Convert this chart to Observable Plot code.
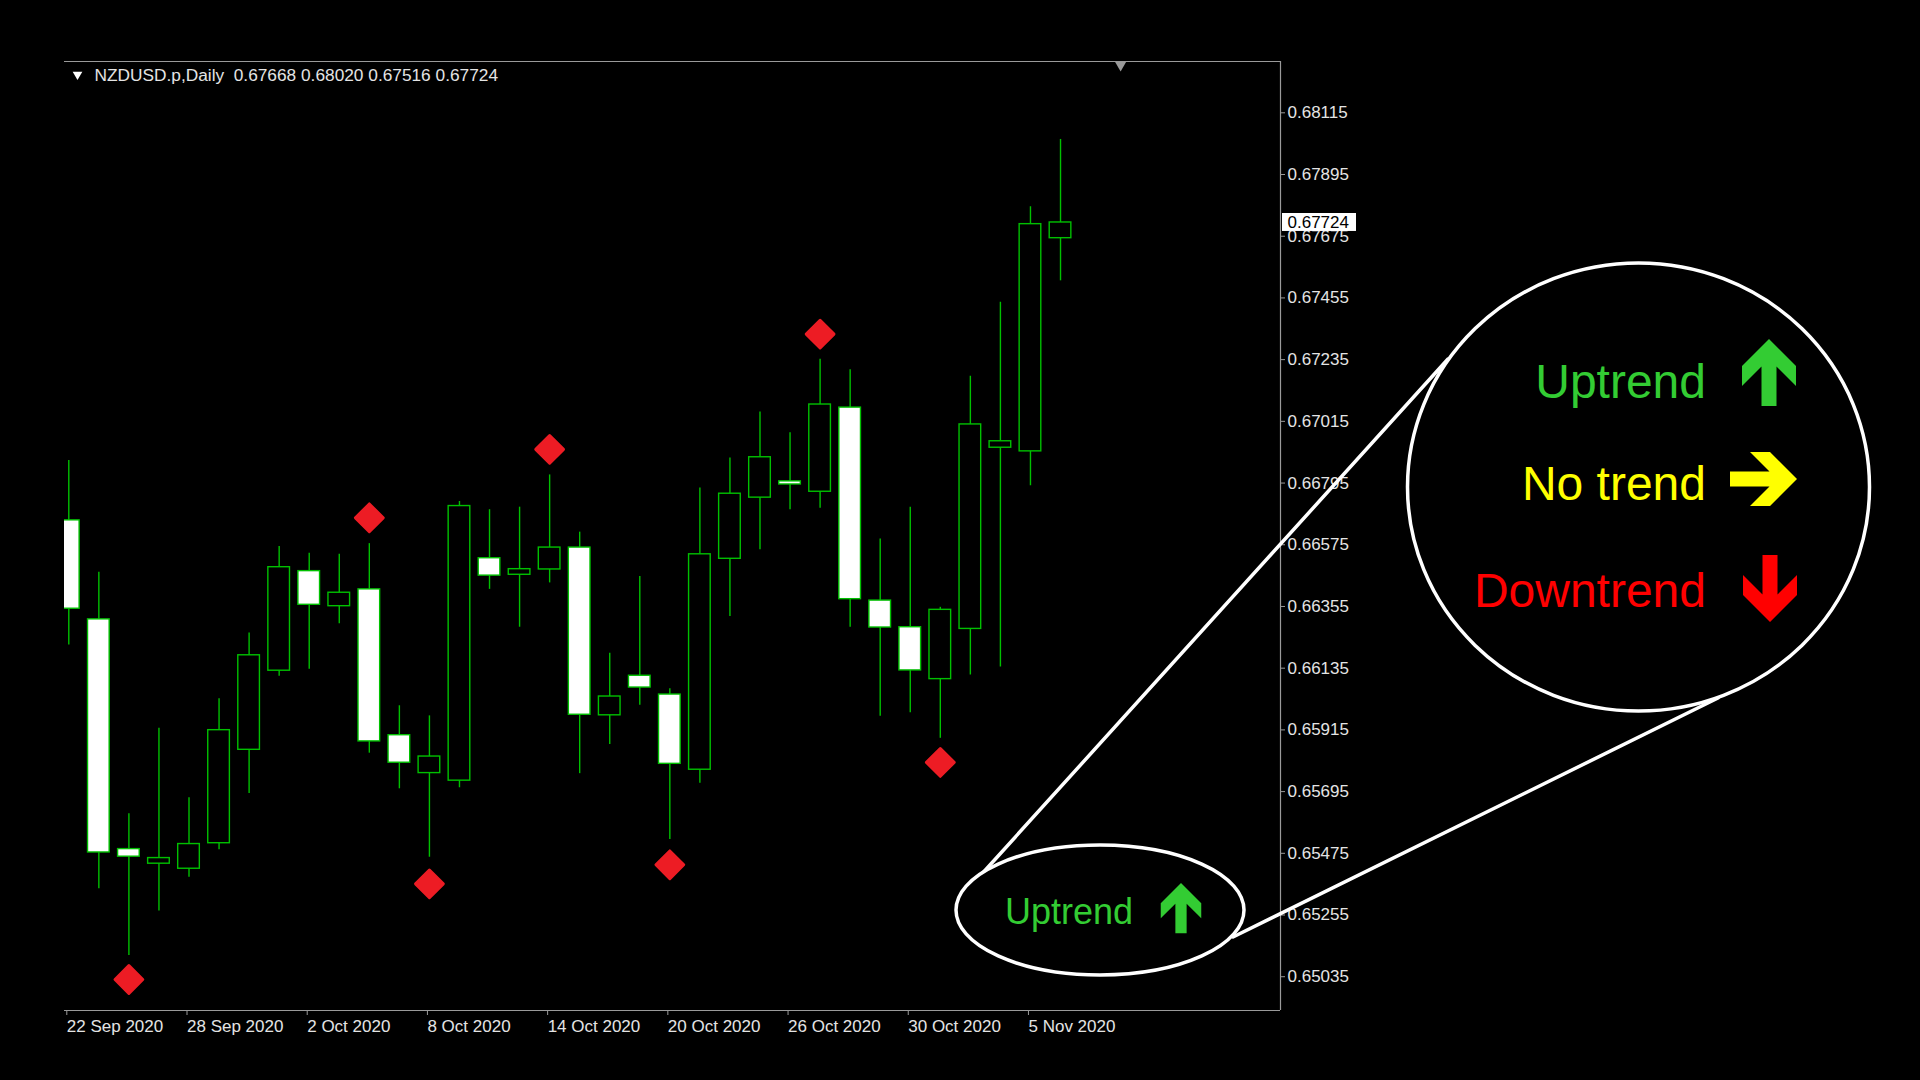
<!DOCTYPE html>
<html>
<head>
<meta charset="utf-8">
<script src="https://cdn.jsdelivr.net/npm/d3@7"></script>
<script src="https://cdn.jsdelivr.net/npm/@observablehq/plot@0.6"></script>
<style>
html, body { margin: 0; padding: 0; background: #000; }
#wrap { position: relative; width: 1920px; height: 1080px; overflow: hidden; background: #000; }
#wrap svg { position: absolute; left: 0; top: 0; }
</style>
</head>
<body>
<div id="wrap"></div>
<script>
// ---------- data ----------
const symbol = "NZDUSD.p";
const period = "Daily";
const dates = ["22 Sep 2020","23 Sep 2020","24 Sep 2020","25 Sep 2020","28 Sep 2020","29 Sep 2020","30 Sep 2020",
  "1 Oct 2020","2 Oct 2020","5 Oct 2020","6 Oct 2020","7 Oct 2020","8 Oct 2020","9 Oct 2020","12 Oct 2020",
  "13 Oct 2020","14 Oct 2020","15 Oct 2020","16 Oct 2020","19 Oct 2020","20 Oct 2020","21 Oct 2020","22 Oct 2020",
  "23 Oct 2020","26 Oct 2020","27 Oct 2020","28 Oct 2020","29 Oct 2020","30 Oct 2020","2 Nov 2020","3 Nov 2020",
  "4 Nov 2020","5 Nov 2020","6 Nov 2020"];
const open  = [0.66662,0.66309,0.65490,0.65438,0.65420,0.65511,0.65844,0.66126,0.66481,0.66356,0.66416,0.65896,
  0.65761,0.65734,0.66527,0.66468,0.66487,0.66565,0.65967,0.66108,0.66041,0.65773,0.66525,0.66743,0.66801,0.66764,
  0.67064,0.66376,0.66281,0.66096,0.66275,0.66921,0.66908,0.67668];
const high  = [0.66875,0.66477,0.65616,0.65921,0.65673,0.66026,0.66260,0.66569,0.66545,0.66541,0.66579,0.66001,
  0.65965,0.66729,0.66700,0.66709,0.66824,0.66620,0.66188,0.66462,0.66062,0.66777,0.66884,0.67048,0.66974,0.67236,
  0.67199,0.66596,0.66709,0.66352,0.67176,0.67440,0.67780,0.68020];
const low   = [0.66218,0.65349,0.65111,0.65269,0.65390,0.65488,0.65688,0.66106,0.66131,0.66293,0.65832,0.65705,
  0.65461,0.65709,0.66416,0.66281,0.66439,0.65759,0.65863,0.66003,0.65524,0.65725,0.66319,0.66557,0.66700,0.66705,
  0.66281,0.65964,0.65976,0.65885,0.66111,0.66139,0.66785,0.67516];
const close = [0.66347,0.65478,0.65463,0.65458,0.65508,0.65914,0.66181,0.66495,0.66361,0.66404,0.65874,0.65798,
  0.65820,0.66713,0.66465,0.66488,0.66565,0.65969,0.66034,0.66066,0.65794,0.66541,0.66757,0.66887,0.66790,0.67075,
  0.66381,0.66280,0.66127,0.66343,0.67004,0.66944,0.67718,0.67724];
// fractal-style signal diamonds (bar index, price)
const signalIdx   = [2, 10, 12, 16, 20, 25, 29];
const signalPrice = [0.65025, 0.66671, 0.65366, 0.66915, 0.65434, 0.67326, 0.65799];
// axis ticks
const xTickIdx = [0, 4, 8, 12, 16, 20, 24, 28, 32];
const yTicks = [0.68115,0.67895,0.67675,0.67455,0.67235,0.67015,0.66795,0.66575,0.66355,0.66135,0.65915,0.65695,0.65475,0.65255,0.65035];
// visible ranges
const xDomain = [-0.143, 40.32];
const yDomain = [0.649146, 0.682979];
const chartShift = 2;
// legend
const legendItems = ["Uptrend", "No trend", "Downtrend"];

// ---------- build ----------
const candles = dates.map((d, i) => ({i, date: d, open: open[i], high: high[i], low: low[i], close: close[i]}));
const bulls = candles.filter(d => d.close >= d.open);
const bears = candles.filter(d => d.close < d.open);
const signals = signalIdx.map((i, k) => ({i, price: signalPrice[k]}));
const last = candles[candles.length - 1];
const fmt = d3.format(".5f");
const green = "#00c000";
const frameGray = "#9a9a9a";
const textCol = "#e4e4e4";
const font = "'Liberation Sans', Arial, sans-serif";

const chart = Plot.plot({
  width: 1920,
  height: 1080,
  marginLeft: 64,
  marginRight: 640,
  marginTop: 61,
  marginBottom: 70,
  style: {background: "#000", fontFamily: font, fontSize: "17px", color: textCol, overflow: "visible"},
  x: {type: "linear", domain: xDomain},
  y: {type: "linear", domain: yDomain},
  marks: [
    Plot.ruleY([yDomain[1]], {stroke: frameGray, strokeWidth: 1}),
    Plot.ruleY([yDomain[0]], {stroke: frameGray, strokeWidth: 1}),
    Plot.ruleX([xDomain[1]], {stroke: frameGray, strokeWidth: 1.2}),
    Plot.axisX(xTickIdx, {anchor: "bottom", tickSize: 5, tickPadding: 4, tickFormat: i => dates[i],
      textAnchor: "start", dx: -2, stroke: frameGray, fill: textCol, label: null}),
    Plot.axisY(yTicks, {anchor: "right", tickSize: 4, tickPadding: 3, tickFormat: fmt,
      stroke: frameGray, fill: textCol, label: null}),
    Plot.ruleX(candles, {x: "i", y1: "low", y2: "high", stroke: green, strokeWidth: 1.4, clip: true}),
    Plot.rect(bulls, {x1: d => d.i - 0.36, x2: d => d.i + 0.36, y1: "open", y2: "close",
      fill: "#000", stroke: green, strokeWidth: 1.4, clip: true}),
    Plot.rect(bears, {x1: d => d.i - 0.36, x2: d => d.i + 0.36, y1: "open", y2: "close",
      fill: "#fff", stroke: green, strokeWidth: 1.4, clip: true}),
    Plot.dot(signals, {x: "i", y: "price", symbol: "diamond2", r: 12.5, fill: "#ed1c24",
      stroke: "#ed1c24", strokeWidth: 3, strokeLinejoin: "round"}),
    // current price box
    Plot.rect([last], {x1: xDomain[1], x2: xDomain[1], y1: d => d.close - 0.00032, y2: d => d.close + 0.00032,
      insetLeft: 2, insetRight: -76, fill: "#fff"}),
    Plot.text([last], {x: xDomain[1], y: "close", text: d => fmt(d.close), dx: 7, textAnchor: "start",
      lineAnchor: "middle", fill: "#000", fontSize: 17}),
    // chart shift marker
    Plot.dot([{i: last.i + chartShift}], {x: "i", frameAnchor: "top", symbol: "triangle", rotate: 180,
      r: 4.5, fill: frameGray, dy: 3}),
    // header
    Plot.dot([last], {frameAnchor: "top-left", dx: 13, dy: 13, symbol: "triangle", rotate: 180, r: 3.6, fill: "#fff"}),
    Plot.text([last], {frameAnchor: "top-left", dx: 30, dy: 14, textAnchor: "start", lineAnchor: "middle",
      fill: textCol, fontSize: 17.3,
      text: d => `${symbol},${period}\u00a0\u00a0${fmt(d.open)} ${fmt(d.high)} ${fmt(d.low)} ${fmt(d.close)}`})
  ]
});
document.getElementById("wrap").appendChild(chart);

// ---------- annotation overlay ----------
const svg = d3.select("#wrap").append("svg")
  .attr("width", 1920).attr("height", 1080)
  .style("pointer-events", "none")
  .style("font-family", font);

const white = "#fff";
svg.append("line").attr("x1", 980).attr("y1", 876).attr("x2", 1448).attr("y2", 359)
  .attr("stroke", white).attr("stroke-width", 3.5).attr("stroke-linecap", "round");
svg.append("line").attr("x1", 1233).attr("y1", 937).attr("x2", 1718).attr("y2", 698)
  .attr("stroke", white).attr("stroke-width", 3.5).attr("stroke-linecap", "round");
svg.append("ellipse").attr("cx", 1100).attr("cy", 910).attr("rx", 144).attr("ry", 65)
  .attr("fill", "#000").attr("stroke", white).attr("stroke-width", 3.5);
svg.append("ellipse").attr("cx", 1638.5).attr("cy", 487).attr("rx", 231).attr("ry", 224)
  .attr("fill", "#000").attr("stroke", white).attr("stroke-width", 3.5);

const arrowPath = "M0,0 L27,27 L27,47 L7.5,27.5 L7.5,67 L-7.5,67 L-7.5,27.5 L-27,47 L-27,27 Z";
function arrow(tx, ty, rot, s, color) {
  svg.append("path").attr("d", arrowPath)
    .attr("transform", `translate(${tx},${ty}) rotate(${rot}) scale(${s})`)
    .attr("fill", color);
}
const colUp = "#33cc33", colNo = "#ffff00", colDown = "#ff0000";

svg.append("text").attr("x", 1706).attr("y", 398).attr("text-anchor", "end")
  .attr("font-size", 48).attr("fill", colUp).text(legendItems[0]);
svg.append("text").attr("x", 1706).attr("y", 500).attr("text-anchor", "end")
  .attr("font-size", 48).attr("fill", colNo).text(legendItems[1]);
svg.append("text").attr("x", 1706).attr("y", 607).attr("text-anchor", "end")
  .attr("font-size", 48).attr("fill", colDown).text(legendItems[2]);
arrow(1769, 339, 0, 1, colUp);
arrow(1797, 479, 90, 1, colNo);
arrow(1770, 622, 180, 1, colDown);

svg.append("text").attr("x", 1005).attr("y", 924).attr("text-anchor", "start")
  .attr("font-size", 36).attr("fill", colUp).text(legendItems[0]);
arrow(1181, 883, 0, 0.75, colUp);
</script>
</body>
</html>
